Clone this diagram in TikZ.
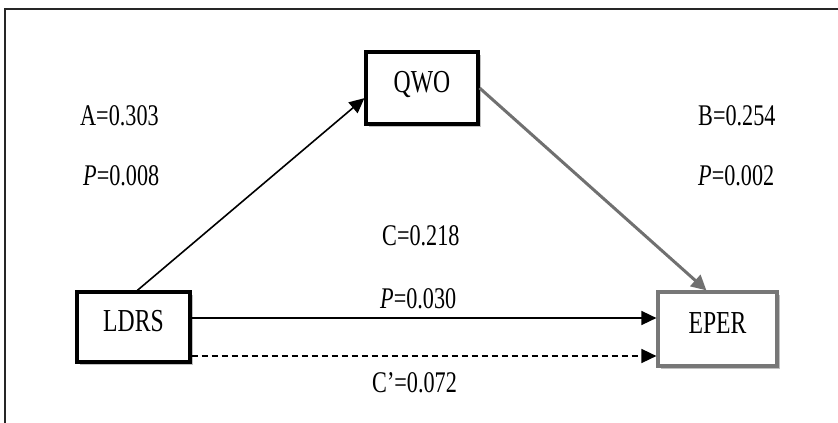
\documentclass[tikz,border=0pt]{standalone}
\usepackage{fontspec}
\setmainfont{Liberation Serif}[FakeStretch=0.74]
\usetikzlibrary{arrows.meta,shadows}
\definecolor{pathgray}{HTML}{707070}
\definecolor{boxgray}{HTML}{777777}
\begin{document}
\begin{tikzpicture}[x=1pt,y=-1pt,
  varbox/.style={draw=black, line width=3.2pt, fill=white, inner sep=0pt,
    text height=22pt, text depth=13pt,
    font=\fontsize{32}{36}\selectfont,
    drop shadow={shadow xshift=3pt, shadow yshift=-3pt, fill=black!35, opacity=0.7}},
  coef/.style={anchor=base west, inner sep=0pt, font=\fontsize{30}{34}\selectfont},
  arr/.style={line width=1.6pt, -{Triangle[length=15pt, width=14pt]}},
  grayarr/.style={line width=3pt, draw=pathgray, -{Triangle[length=15pt, width=15pt, fill=pathgray]}}
]
\useasboundingbox (0,0) rectangle (838,423);
\clip (0,0) rectangle (838,423);

% outer frame
\draw[line width=2.6pt, black!85] (5,9) rectangle (870,450);

% variables
\node[varbox, minimum width=113pt, minimum height=70pt] (ldrs) at (133.5,327) {LDRS};
\node[varbox, minimum width=112pt, minimum height=72pt] (qwo) at (422,88) {QWO};
\node[varbox, draw=boxgray, minimum width=119pt, minimum height=74pt] (eper) at (717.5,329) {EPER};

% paths
\draw[arr] (ldrs.84) -- (qwo.190);
\draw[grayarr] (qwo.east) -- (eper.106);
\draw[arr] (ldrs.east |- 0,318) -- (eper.west |- 0,318);
\draw[arr, dash pattern=on 6pt off 4pt] (ldrs.east |- 0,356) -- (eper.west |- 0,356);

% coefficients
\node[coef] (a) at (80,125) {A=0.303};
\node[coef] (pa) at (83,185) {\textit{P}=0.008};
\node[coef] (b) at (698,125) {B=0.254};
\node[coef] (pb) at (698,185) {\textit{P}=0.002};
\node[coef] (c) at (382,245) {C=0.218};
\node[coef] (pc) at (380,308) {\textit{P}=0.030};
\node[coef] (cp) at (372,392) {C’=0.072};
\end{tikzpicture}
\end{document}
